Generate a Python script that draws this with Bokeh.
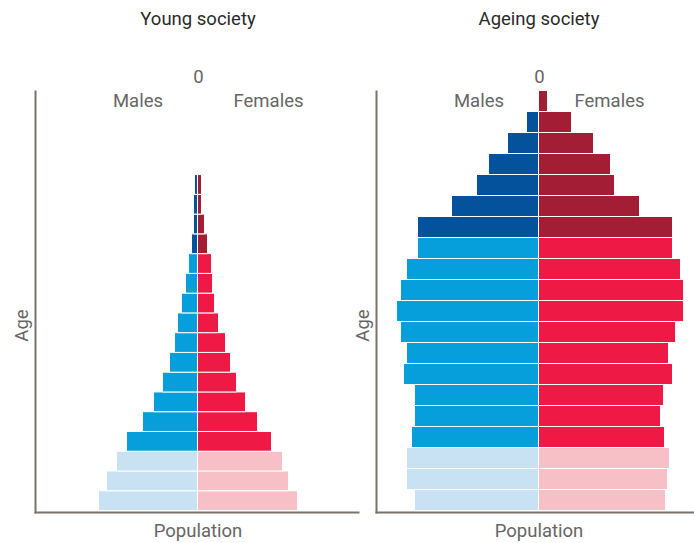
from math import pi
from bokeh.plotting import figure
from bokeh.models import Range1d, Label, ColumnDataSource
from bokeh.embed import file_html
from bokeh.resources import INLINE

# ---------------- data (population per 5-year age group, youngest first) -------------
age_groups = ["0-4", "5-9", "10-14", "15-19", "20-24", "25-29", "30-34", "35-39",
              "40-44", "45-49", "50-54", "55-59", "60-64", "65-69", "70-74",
              "75-79", "80-84", "85-89", "90-94", "95-99"]

young_male = [99, 91, 81, 71, 55, 44, 35, 28, 23, 20, 16, 12, 9, 6, 4, 4, 3]
young_female = [100, 91, 85, 74, 60, 48, 39, 33, 28, 21, 17, 15, 14, 10, 7, 4, 4]

ageing_male = [124, 132, 132, 127, 124, 124, 135, 132, 138, 142, 138, 132, 121,
               121, 87, 62, 50, 31, 12, 0]
ageing_female = [127, 129, 131, 126, 122, 125, 134, 130, 137, 145, 145, 142, 134,
                 134, 101, 76, 72, 55, 33, 9]

panel_titles = ["Young society", "Ageing society"]
sex_labels = ["Males", "Females"]
zero_label = "0"
x_label = "Population"
y_label = "Age"

# ---------------- styles ----------------
COLORS = {
    ("child", "m"): "#C8E2F4", ("child", "f"): "#F7C0C7",
    ("adult", "m"): "#079FDB", ("adult", "f"): "#EF1946",
    ("old", "m"): "#03529B", ("old", "f"): "#A31D35",
}
FONT = "Roboto"
AXIS_COLOR = "#7a736d"
TEXT_GRAY = "#666666"
TITLE_COLOR = "#2a2a2a"
TEXT_SIZE = "18.5px"

W, H = 694, 543
BASE = 510          # pixel row of the bars' base (age 0)
AXIS_TOP = 90
AXIS_BOTTOM = 512


def stage(i):
    if i < 3:
        return "child"
    if i < 13:
        return "adult"
    return "old"


p = figure(width=W, height=H, output_backend="svg", toolbar_location=None,
           x_range=Range1d(0, W), y_range=Range1d(H, 0), min_border=0, tools="")
p.axis.visible = False
p.grid.visible = False
p.outline_line_color = None
p.background_fill_color = "white"
p.border_fill_color = "white"


def add_panel(name, title, males, females, center_px, row_px, axis_left_px, axis_right_px):
    def dx(xp):
        return xp - center_px

    def dy(yp):
        return (BASE - yp) / row_px

    p.extra_x_ranges[name] = Range1d(dx(0), dx(W))
    p.extra_y_ranges[name] = Range1d(dy(H), dy(0))
    kw = dict(x_range_name=name, y_range_name=name)

    n = len(males)
    ys = [i + 0.5 for i in range(n)]
    src = ColumnDataSource(dict(
        y=ys + ys,
        left=[-v for v in males] + [0] * n,
        right=[0] * n + list(females),
        color=[COLORS[(stage(i), "m")] for i in range(n)] +
              [COLORS[(stage(i), "f")] for i in range(n)],
        age=list(age_groups[:n]) * 2,
    ))
    p.hbar(y="y", left="left", right="right", height=1, source=src,
           fill_color="color", line_color="white", line_width=1, **kw)

    # axis lines (Age axis on the left, Population axis at the bottom)
    p.line([dx(axis_left_px), dx(axis_left_px)], [dy(AXIS_TOP), dy(AXIS_BOTTOM + 1)],
           line_color=AXIS_COLOR, line_width=2, **kw)
    p.line([dx(axis_left_px - 1), dx(axis_right_px)], [dy(AXIS_BOTTOM), dy(AXIS_BOTTOM)],
           line_color=AXIS_COLOR, line_width=2, **kw)

    def add(text, xp, yp, color, baseline="alphabetic", angle=0, size=TEXT_SIZE):
        p.add_layout(Label(x=dx(xp), y=dy(yp), text=text, text_font=FONT,
                           text_font_size=size, text_color=color,
                           text_align="center", text_baseline=baseline,
                           angle=angle, **kw))

    add(title, center_px + 0.5, 18, TITLE_COLOR)
    add(zero_label, center_px + 1, 76, TEXT_GRAY)
    add(sex_labels[0], center_px - 59.5, 100, TEXT_GRAY)
    add(sex_labels[1], center_px + 71, 100, TEXT_GRAY)
    add(x_label, center_px + 0.5, 530, TEXT_GRAY)
    add(y_label, axis_left_px - 14, 325, TEXT_GRAY, baseline="middle", angle=pi / 2)


# left panel: Age axis at x=35, centre line at 197, 17 age rows
add_panel("young", panel_titles[0], young_male, young_female, 197, 19.76, 35, 359)
# right panel: Age axis at x=376, centre line at 538, 20 age rows
add_panel("ageing", panel_titles[1], ageing_male, ageing_female, 538, 21.0, 376, 694)

open("out.html", "w").write(file_html(p, INLINE))
